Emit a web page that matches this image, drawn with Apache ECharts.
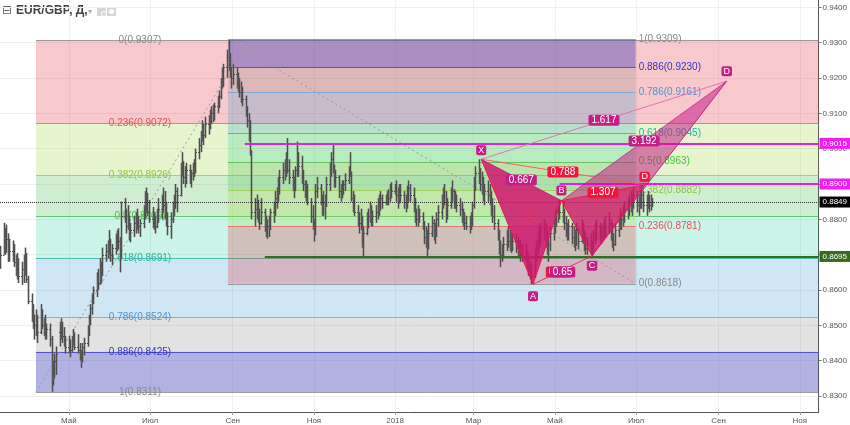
<!DOCTYPE html>
<html><head><meta charset="utf-8">
<script src="https://cdn.jsdelivr.net/npm/echarts@6/dist/echarts.min.js"></script>
<style>html,body{margin:0;padding:0;background:#fff}#c{width:850px;height:425px}</style>
</head><body><div id="c"></div>
<script>
// ---------- DATA (prices in 1/10000) ----------
const firstBarDay = [2017, 2, 10]; // daily bars, weekdays from 10 Mar 2017
const barOpen = [8690,
8700,8760,8720,8745,8700, 8710,8700,8680,8660,8650, 8640,8660,8690,8660,8630, 8570,8540,8510,8500,8520,
8480,8530,8500,8490,8480, 8490,8460,8370,8380,8400, 8480,8490,8480,8470,8460, 8440,8450,8430,8460,8470,
8440,8430,8410,8420,8440, 8450,8490,8520,8550,8580, 8600,8640,8620,8670,8650, 8700,8710,8730,8740,8700,
8720,8740,8750,8740,8700, 8810,8820,8780,8800,8760, 8770,8790,8800,8790,8780, 8790,8830,8860,8840,8820,
8800,8790,8790,8780,8820, 8830,8850,8840,8810,8790, 8780,8800,8830,8860,8880, 8870,8940,8960,8920,8930,
8940,8920,8930,8950,8960, 8990,9010,9040,9060,9040, 9070,9060,9090,9100,9110, 9120,9130,9150,9190,9220,
9230,9260,9240,9210,9200, 9210,9190,9180,9160,9150, 9140,9110,9080,9040,8990, 8820,8830,8850,8810,8790,
8820,8780,8770,8780,8800, 8820,8840,8860,8880,8900, 8920,8940,8950,8970,8940, 8920,8900,8890,8940,8960,
8950,8920,8900,8880,8870, 8850,8810,8790,8760,8880, 8890,8860,8830,8850,8840, 8900,8940,8970,8950,8910,
8920,8880,8870,8890,8900, 8910,8940,8930,8860,8840, 8820,8800,8790,8800,8740, 8760,8800,8810,8820,8800,
8810,8820,8840,8850,8860, 8850,8860,8870,8860,8890, 8880,8890,8870,8850,8880, 8870,8850,8840,8880,8890,
8870,8840,8810,8800,8820, 8810,8790,8750,8740,8720, 8760,8790,8760,8770,8800, 8820,8850,8870,8850,8820,
8840,8870,8880,8850,8860, 8840,8830,8810,8800,8790, 8780,8790,8800,8840,8900, 8930,8920,8900,8890,8870,
8880,8870,8860,8830,8810, 8790,8760,8720,8700,8710, 8730,8750,8740,8730,8720, 8740,8720,8710,8720,8700,
8710,8700,8680,8660,8650, 8640,8700,8720,8740,8760, 8770,8760,8740,8720,8730, 8760,8790,8800,8820,8830,
8820,8810,8790,8770,8760, 8780,8750,8740,8730,8770, 8740,8780,8750,8730,8720, 8730,8720,8730,8760,8770,
8780,8760,8750,8770,8790, 8780,8790,8760,8740,8730, 8770,8790,8810,8800,8820, 8830,8840,8850,8860,8840,
8870,8840,8850,8860,8870, 8840,8850,8860,8840,8850];
const barHigh = [8725,
8790,8775,8785,8760,8745, 8740,8730,8700,8705,8690, 8680,8700,8720,8705,8640, 8590,8560,8530,8545,8530,
8560,8545,8520,8530,8505, 8505,8470,8400,8420,8440, 8510,8520,8510,8495,8470, 8470,8460,8470,8490,8480,
8475,8450,8430,8450,8465, 8500,8530,8560,8590,8610, 8650,8660,8690,8680,8720, 8730,8740,8770,8745,8730,
8760,8770,8775,8750,8850, 8860,8830,8840,8810,8790, 8810,8820,8830,8810,8800, 8840,8880,8890,8875,8855,
8835,8820,8810,8830,8860, 8870,8890,8880,8850,8820, 8820,8850,8870,8900,8890, 8960,8990,8965,8950,8960,
8955,8940,8960,8970,9000, 9030,9050,9080,9070,9090, 9095,9110,9120,9125,9130, 9150,9165,9200,9230,9240,
9280,9307,9270,9230,9240, 9230,9215,9200,9190,9175, 9150,9120,9100,9080,8995, 8860,8870,8855,8830,8860,
8830,8810,8800,8810,8830, 8850,8880,8890,8920,8940, 8960,8970,8990,9030,8970, 8940,8920,8950,9020,8990,
8980,8940,8910,8910,8900, 8860,8840,8800,8900,8920, 8900,8870,8880,8870,8920, 8960,8990,9015,8955,8940,
8925,8900,8910,8910,8930, 8950,8990,8935,8880,8870, 8840,8820,8830,8810,8780, 8820,8830,8850,8840,8825,
8840,8860,8870,8880,8870, 8870,8880,8885,8900,8905, 8900,8910,8890,8900,8900, 8880,8870,8895,8910,8900,
8890,8860,8830,8840,8830, 8820,8795,8780,8770,8790, 8810,8800,8790,8820,8840, 8870,8890,8900,8880,8860,
8890,8910,8885,8880,8870, 8860,8850,8830,8820,8810, 8810,8820,8850,8920,8950, 8970,8945,8935,8920,8900,
8910,8900,8880,8860,8840, 8800,8770,8740,8730,8750, 8770,8780,8770,8760,8760, 8760,8750,8740,8740,8730,
8730,8710,8700,8680,8670, 8720,8740,8760,8780,8790, 8800,8790,8770,8750,8780, 8800,8820,8830,8840,8855,
8850,8830,8810,8790,8800, 8790,8780,8770,8790,8775, 8800,8790,8770,8760,8750, 8760,8740,8770,8790,8800,
8790,8780,8790,8800,8810, 8820,8800,8790,8760,8790, 8810,8830,8820,8840,8850, 8860,8870,8880,8870,8890,
8880,8870,8880,8897,8880, 8870,8880,8870,8870,8860];
const barLow = [8660,
8700,8700,8705,8680,8680, 8680,8665,8640,8630,8620, 8615,8620,8640,8620,8560, 8510,8490,8460,8470,8450,
8475,8490,8470,8460,8460, 8440,8312,8330,8350,8360, 8440,8460,8450,8440,8420, 8420,8410,8425,8440,8430,
8420,8400,8380,8395,8415, 8440,8470,8500,8530,8560, 8580,8600,8615,8620,8640, 8680,8690,8700,8680,8670,
8700,8710,8715,8650,8690, 8790,8760,8770,8740,8735, 8750,8760,8770,8760,8750, 8775,8800,8820,8810,8790,
8775,8770,8760,8775,8790, 8800,8820,8800,8780,8755, 8745,8790,8810,8830,8820, 8865,8920,8900,8890,8900,
8900,8890,8910,8920,8930, 8970,8990,9020,9010,9030, 9040,9055,9070,9075,9080, 9100,9115,9140,9170,9175,
9200,9220,9200,9170,9180, 9170,9160,9145,9130,9120, 9090,9060,9020,8980,8800, 8780,8800,8790,8770,8785,
8765,8750,8745,8750,8770, 8790,8810,8830,8850,8870, 8900,8910,8920,8930,8900, 8880,8860,8880,8920,8920,
8900,8880,8860,8850,8840, 8790,8770,8737,8755,8860, 8840,8810,8810,8800,8835, 8880,8920,8930,8890,8890,
8860,8850,8860,8870,8880, 8900,8920,8850,8820,8810, 8780,8760,8770,8720,8695, 8755,8775,8790,8780,8780,
8790,8800,8810,8825,8830, 8840,8840,8840,8850,8860, 8870,8850,8830,8845,8850, 8830,8820,8830,8850,8850,
8820,8790,8780,8780,8790, 8770,8730,8720,8695,8715, 8750,8740,8730,8750,8780, 8800,8830,8840,8790,8800,
8830,8850,8830,8830,8820, 8810,8790,8780,8770,8770, 8760,8770,8780,8830,8880, 8900,8880,8870,8850,8840,
8850,8840,8810,8790,8770, 8740,8700,8665,8680,8690, 8710,8720,8710,8705,8710, 8705,8690,8690,8680,8680,
8680,8660,8640,8630,8617, 8635,8680,8700,8720,8730, 8740,8720,8700,8680,8710, 8740,8760,8780,8790,8800,
8790,8770,8750,8740,8740, 8730,8720,8710,8725,8715, 8735,8730,8710,8700,8700, 8700,8697,8710,8730,8740,
8740,8730,8740,8750,8750, 8760,8740,8720,8710,8725, 8750,8770,8770,8780,8790, 8800,8810,8820,8810,8830,
8820,8810,8830,8830,8820, 8810,8830,8820,8825,8835];
const barClose = [8700,
8760,8720,8745,8700,8710, 8700,8680,8660,8650,8640, 8660,8690,8660,8630,8570, 8540,8510,8500,8520,8480,
8530,8500,8490,8480,8490, 8460,8370,8380,8400,8420, 8490,8480,8470,8460,8440, 8450,8430,8460,8470,8440,
8430,8410,8420,8440,8450, 8490,8520,8550,8580,8600, 8640,8620,8670,8650,8700, 8710,8730,8740,8700,8720,
8740,8750,8740,8700,8810, 8820,8780,8800,8760,8770, 8790,8800,8790,8780,8790, 8830,8860,8840,8820,8800,
8790,8790,8780,8820,8830, 8850,8840,8810,8790,8780, 8800,8830,8860,8880,8870, 8940,8960,8920,8930,8940,
8920,8930,8950,8960,8990, 9010,9040,9060,9040,9070, 9060,9090,9100,9110,9120, 9130,9150,9190,9220,9230,
9260,9240,9210,9200,9210, 9190,9180,9160,9150,9140, 9110,9080,9040,8990,8820, 8830,8850,8810,8790,8820,
8780,8770,8780,8800,8820, 8840,8860,8880,8900,8920, 8940,8950,8970,8940,8920, 8900,8890,8940,8960,8950,
8920,8900,8880,8870,8850, 8810,8790,8760,8880,8890, 8860,8830,8850,8840,8900, 8940,8970,8950,8910,8920,
8880,8870,8890,8900,8910, 8940,8930,8860,8840,8820, 8800,8790,8800,8740,8760, 8800,8810,8820,8800,8810,
8820,8840,8850,8860,8850, 8860,8870,8860,8890,8880, 8890,8870,8850,8880,8870, 8850,8840,8880,8890,8870,
8840,8810,8800,8820,8810, 8790,8750,8740,8720,8760, 8790,8760,8770,8800,8820, 8850,8870,8850,8820,8840,
8870,8880,8850,8860,8840, 8830,8810,8800,8790,8780, 8790,8800,8840,8900,8930, 8920,8900,8890,8870,8880,
8870,8860,8830,8810,8790, 8760,8720,8700,8710,8730, 8750,8740,8730,8720,8740, 8720,8710,8720,8700,8710,
8700,8680,8660,8650,8640, 8700,8720,8740,8760,8770, 8760,8740,8720,8730,8760, 8790,8800,8820,8830,8820,
8810,8790,8770,8760,8780, 8750,8740,8730,8770,8740, 8780,8750,8730,8720,8730, 8720,8730,8760,8770,8780,
8760,8750,8770,8790,8780, 8790,8760,8740,8730,8770, 8790,8810,8800,8820,8830, 8840,8850,8860,8840,8870,
8840,8850,8860,8870,8840, 8850,8860,8840,8850,8849];

// axis ticks
const priceTicks = [0.83,0.84,0.85,0.86,0.87,0.88,0.89,0.90,0.91,0.92,0.93,0.94];
const monthTickDays = [[2017,4,1],[2017,6,1],[2017,8,1],[2017,10,1],[2018,0,1],[2018,2,1],[2018,4,1],[2018,6,1],[2018,8,1],[2018,10,1]];
const monthLabels = ['Май','Июл','Сен','Ноя','2018','Мар','Май','Июл','Сен','Ноя'];

// Fibonacci retracements
const fibLevels = ['0','0.236','0.382','0.5','0.618','0.786','0.886','1'];
const fibLeftPrices = [0.9307,0.9072,0.8926,0.8809,0.8691,0.8524,0.8425,0.8311];
const fibRightPrices = [0.8618,0.8781,0.8882,0.8963,0.9045,0.9161,0.9230,0.9309];

// horizontal levels
const hLinePrices = [0.9015, 0.8900, 0.8695, 0.8849];
const hLineLabels = ['0.9015','0.8900','0.8695','0.8849'];

// harmonic pattern points X A B C D(small) D(big)
const patternNames = ['X','A','B','C','D','D'];
const patternPrices = [0.8970, 0.8616, 0.8853, 0.8697, 0.8898, 0.9191];
const patternRatios = ['0.667','0.65','0.788','1.307','1.617','3.192'];

// ---------- BUILD ----------
const U = (y,m,d,h) => Date.UTC(y,m,d,h||0);
const xMin = U(2017,2,10,5), xMax = U(2018,10,15,1);
const yMin = 0.825484, yMax = 0.942066;
const monthTicks = monthTickDays.map(a => U(a[0],a[1],a[2]));

const barDates = [];
(function(){
  let t = U(firstBarDay[0], firstBarDay[1], firstBarDay[2]);
  while (barDates.length < barClose.length) {
    const dw = new Date(t).getUTCDay();
    if (dw !== 0 && dw !== 6) barDates.push(t);
    t += 86400000;
  }
})();
const barData = barDates.map((t,i) => [t, barOpen[i]/1e4, barHigh[i]/1e4, barLow[i]/1e4, barClose[i]/1e4]);

const fibLeftStart = U(2017,3,6,5), fibLeftLabelAt = U(2017,5,23,8), fibLeftDiagEnd = U(2017,8,12,14);
const fibRightStart = U(2017,7,28,10), fibRightEnd = U(2018,5,30,17);
const hLineStart = [U(2017,8,10,3), U(2018,4,4,14), U(2017,8,25,3), xMin];
const patternDates = [U(2018,2,6,16), U(2018,3,14,14), U(2018,4,5,22), U(2018,4,28,22), U(2018,6,7,10), U(2018,8,7,2)];

const bandColors = ['rgba(225,40,50,0.25)','rgba(160,215,60,0.26)','rgba(76,190,80,0.27)','rgba(0,200,140,0.2)','rgba(30,140,210,0.21)','rgba(128,128,128,0.23)','rgba(50,50,180,0.38)'];
const lineColors = ['#8a8a8a','#e06666','#9ccc4a','#4cbb50','#2bb39a','#6aa5d8','#3d3dc8','#8a8a8a'];
const labelColors = ['#8a8a8a','#e05555','#8cc63f','#3ec63e','#26b3a0','#4f92cc','#3333c4','#8a8a8a'];
const FONT = 'Liberation Sans, Arial, sans-serif';

function fibRender(prices, x0, x1, labelMode) {
  return function(params, api) {
    const i = api.value(2);
    const cs = params.coordSys;
    const p0 = api.coord([x0, prices[i]]);
    const xl = p0[0];
    const xr = x1 == null ? cs.x + cs.width : api.coord([x1, prices[i]])[0];
    const y = Math.round(p0[1]) + 0.5;
    const ch = [];
    if (i < prices.length - 1) {
      const y2 = api.coord([x0, prices[i+1]])[1];
      ch.push({type:'rect', shape:{x:xl, y:Math.min(p0[1],y2), width:xr-xl, height:Math.abs(y2-p0[1])}, style:{fill:bandColors[i]}});
    }
    ch.push({type:'line', shape:{x1:xl,y1:y,x2:xr,y2:y}, style:{stroke:lineColors[i], lineWidth:1, opacity:0.8}});
    const txt = fibLevels[i] + '(' + prices[i].toFixed(4) + ')';
    let tx, align;
    if (labelMode === 'left') { tx = api.coord([fibLeftLabelAt, prices[i]])[0]; align = 'center'; }
    else { tx = xr + 3; align = 'left'; }
    ch.push({type:'text', x:tx, y:p0[1], style:{text:txt, fill:labelColors[i], fontSize:10, fontFamily:FONT, align:align, verticalAlign:'middle'}});
    return {type:'group', children:ch};
  };
}

function diagRender(params, api) {
  const a = api.coord([fibLeftStart, fibLeftPrices[7]]);
  const b = api.coord([fibLeftDiagEnd, fibLeftPrices[0]]);
  const c = api.coord([fibRightStart, fibRightPrices[7]]);
  const d = api.coord([fibRightEnd, fibRightPrices[0]]);
  const st = {stroke:'#999', lineWidth:1, lineDash:[2,3]};
  return {type:'group', children:[
    {type:'line', shape:{x1:a[0],y1:a[1],x2:b[0],y2:b[1]}, style:st},
    {type:'line', shape:{x1:c[0],y1:c[1],x2:d[0],y2:d[1]}, style:st}
  ]};
}

function barRender(params, api) {
  const t = api.value(0);
  const o = api.coord([t, api.value(1)]), h = api.coord([t, api.value(2)]);
  const l = api.coord([t, api.value(3)]), c = api.coord([t, api.value(4)]);
  const x = Math.round(o[0]) + 0.5;
  const st = {stroke:'#4d4d4d', lineWidth:1};
  return {type:'group', children:[
    {type:'rect', shape:{x:x-1.5, y:h[1], width:3, height:Math.max(1,l[1]-h[1])}, style:{fill:'rgba(110,110,110,0.35)'}},
    {type:'line', shape:{x1:x,y1:h[1],x2:x,y2:l[1]}, style:st},
    {type:'line', shape:{x1:x-1.5,y1:Math.round(o[1])+0.5,x2:x,y2:Math.round(o[1])+0.5}, style:st},
    {type:'line', shape:{x1:x,y1:Math.round(c[1])+0.5,x2:x+1.5,y2:Math.round(c[1])+0.5}, style:st}
  ]};
}

const RED = 'rgba(236,20,62,', MAG = 'rgba(196,22,130,';
function patternRender(params, api) {
  const P = patternDates.map((d,i) => api.coord([d, patternPrices[i]]));
  const [X,A,B,C,D1,D2] = P;
  const poly = (pts, fill) => ({type:'polygon', shape:{points:pts.map(p=>[p[0],p[1]])}, style:{fill:fill}});
  const seg = (p,q,col) => ({type:'line', shape:{x1:p[0],y1:p[1],x2:q[0],y2:q[1]}, style:{stroke:col, lineWidth:1}});
  const mid = (p,q) => [(p[0]+q[0])/2, (p[1]+q[1])/2];
  const box = (pt, text, bg, size, pad) => ({type:'text', x:pt[0], y:pt[1], style:{text:text, fill:'#fff', fontSize:size, fontFamily:FONT, align:'center', verticalAlign:'middle', backgroundColor:bg, padding:pad, borderRadius:2}});
  const ch = [
    poly([X,A,B], RED+'0.6)'), poly([B,C,D1], RED+'0.55)'),
    poly([X,A,B], MAG+'0.6)'), poly([B,C,D2], MAG+'0.52)'),
    seg(X,A,RED+'0.9)'), seg(A,B,RED+'0.9)'), seg(B,C,RED+'0.9)'), seg(C,D1,RED+'0.9)'),
    seg(X,D1,'rgba(240,90,90,0.9)'), seg(B,D1,RED+'0.7)'), seg(A,C,RED+'0.8)'),
    seg(X,D2,'rgba(225,110,180,0.95)'), seg(B,D2,MAG+'0.7)'), seg(C,D2,MAG+'0.9)'), seg(X,B,MAG+'0.7)'),
    {type:'text', x:(X[0]+A[0]+B[0])/3+4, y:(X[1]+A[1]+B[1])/3+3, style:{text:'2', fill:'#e8305c', fontSize:17, fontFamily:FONT, align:'center', verticalAlign:'middle'}}
  ];
  const m = [mid(X,B), mid(A,C), mid(X,D1), mid(B,D1), mid(X,D2), mid(B,D2)];
  const rc = ['#c41f86','#c41f86','#f2163f','#f2163f','#c41f86','#c41f86'];
  ch.push(box([m[1][0]-4, m[1][1]+2], patternRatios[1], '#f2163f', 10, [1,3,0,3]));
  for (let k = 0; k < 6; k++) ch.push(box([m[k][0], m[k][1]+(k===1?2:0)], patternRatios[k], rc[k], 10, [1,3,0,3]));
  const off = [-9, 12, -10, 10, -8, -10];
  const pc = ['#c41f86','#c41f86','#c41f86','#c41f86','#f2163f','#c41f86'];
  for (let k = 0; k < 6; k++) ch.push(box([P[k][0], P[k][1]+off[k]], patternNames[k], pc[k], 9, [1,2,0,2]));
  return {type:'group', children:ch};
}

const tag = (text, bg) => ({show:true, position:'end', formatter:text, backgroundColor:bg, color:'#fff', fontSize:8, fontFamily:FONT, padding:[2,3,1,3], distance:1});
const hColors = ['#e81ee0','#e81ee0','#386a1f','#333'];
const tagColors = ['#f01ef0','#f01ef0','#386a1f','#000'];
const hWidth = [2,2,2,1];
const hType = ['solid','solid','solid','dotted'];

const chart = echarts.init(document.getElementById('c'), null, {renderer:'canvas'});
chart.setOption({
  animation:false,
  backgroundColor:'#fff',
  graphic:[
    {type:'text', left:2, top:5, style:{text:'⊟', fontSize:12, fill:'#666', fontFamily:'DejaVu Sans'}},
    {type:'text', left:16, top:5, style:{text:'EUR/GBP, Д,', fontSize:12, fontWeight:'bold', fill:'#444', fontFamily:FONT}},
    {type:'text', left:88, top:8, style:{text:'▾', fontSize:8, fill:'#aaa', fontFamily:'DejaVu Sans'}},
    {type:'rect', left:97, top:7, shape:{width:9, height:9}, style:{fill:'#d6d6d6'}},
    {type:'circle', left:99, top:9, shape:{r:2.5}, style:{fill:'none', stroke:'#fff', lineWidth:1}},
    {type:'rect', left:107, top:7, shape:{width:9, height:9}, style:{fill:'#d6d6d6'}},
    {type:'circle', left:109, top:9, shape:{r:2.5}, style:{fill:'#fff'}}
  ],
  grid:{left:0, right:31, top:0, bottom:13},
  xAxis:{type:'value', min:xMin, max:xMax,
    axisLine:{lineStyle:{color:'#555'}},
    axisTick:{show:true, customValues:monthTicks, length:3, lineStyle:{color:'#999'}},
    axisLabel:{customValues:monthTicks, fontSize:8, color:'#555', fontFamily:FONT, margin:5,
      formatter:v => { let b=0; for (let i=1;i<monthTicks.length;i++) if (Math.abs(monthTicks[i]-v) < Math.abs(monthTicks[b]-v)) b=i; return monthLabels[b]; }},
    splitLine:{show:true, lineStyle:{color:'#f0f0f0'}}},
  yAxis:{type:'value', position:'right', min:yMin, max:yMax,
    axisLine:{show:true, lineStyle:{color:'#555'}},
    axisTick:{show:true, customValues:priceTicks, length:3, lineStyle:{color:'#777'}},
    axisLabel:{customValues:priceTicks, fontSize:8, color:'#555', fontFamily:FONT, margin:4, formatter:v => v.toFixed(4)},
    splitLine:{show:true, lineStyle:{color:'#f0f0f0'}}},
  series:[
    {type:'custom', z:1, silent:true, renderItem:fibRender(fibLeftPrices, fibLeftStart, null, 'left'),
      data:fibLeftPrices.map((p,i)=>[fibLeftStart,p,i])},
    {type:'custom', z:2, silent:true, renderItem:fibRender(fibRightPrices, fibRightStart, fibRightEnd, 'right'),
      data:fibRightPrices.map((p,i)=>[fibRightStart,p,i])},
    {type:'custom', z:3, silent:true, renderItem:diagRender, data:[[fibLeftStart, fibLeftPrices[7]]]},
    {type:'custom', z:4, silent:true, renderItem:barRender, data:barData},
    {type:'line', z:5, silent:true, data:[], markLine:{silent:true, symbol:['none','none'], animation:false,
      data:hLinePrices.map((p,i)=>[
        {coord:[hLineStart[i], p], lineStyle:{color:hColors[i], width:hWidth[i], type:hType[i]}, label:tag(hLineLabels[i], tagColors[i])},
        {coord:[xMax, p]}])}},
    {type:'custom', z:6, silent:true, renderItem:patternRender, data:[[patternDates[0], patternPrices[0]]]}
  ]
});
</script></body></html>
